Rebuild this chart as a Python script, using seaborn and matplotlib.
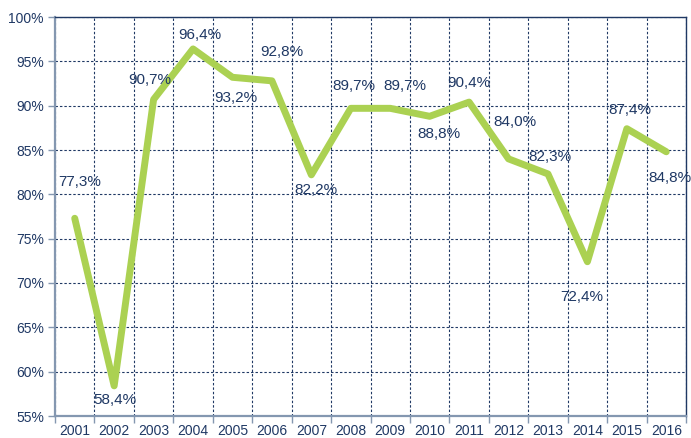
import numpy as np
import pandas as pd
import seaborn as sns
import matplotlib.pyplot as plt

years = [str(y) for y in range(2001, 2017)]
values = [77.3, 58.4, 90.7, 96.4, 93.2, 92.8, 82.2, 89.7, 89.7, 88.8, 90.4, 84.0, 82.3, 72.4, 87.4, 84.8]
# label offsets in pixels (dx, dy) relative to each point
label_offsets = [(5, 36), (1, -14), (-4, 19), (7, 14), (3, -21), (10, 29), (5, -15), (3, 22),
                 (15, 22), (9, -18), (0, 19), (6, 37), (2, 17), (-6, -35), (3, 19), (4, -26)]
y_ticks = list(range(55, 101, 5))

navy = '#1f3864'
green = '#abd152'

sns.set_style('white')
plt.rcParams['font.family'] = ['Liberation Sans', 'DejaVu Sans']

df = pd.DataFrame({'idx': np.arange(len(years)), 'value': values})

fig = plt.figure(figsize=(6.91, 4.38), dpi=100)
ax = fig.add_axes([55 / 691, 22 / 438, 631 / 691, 399 / 438])

sns.lineplot(data=df, x='idx', y='value', ax=ax, color=green, lw=5,
             solid_joinstyle='round', solid_capstyle='round', zorder=3)

for i, (v, (dx, dy)) in enumerate(zip(values, label_offsets)):
    ax.annotate(f'{v:.1f}%'.replace('.', ','), (i, v), xytext=(dx, dy),
                textcoords='offset pixels', ha='center', va='center',
                fontsize=11, color=navy, zorder=4, annotation_clip=False)

ax.set_xlim(-0.5, len(years) - 0.5)
ax.set_ylim(55, 100)
ax.set_xticks(np.arange(len(years) + 1) - 0.5)
ax.set_xticklabels([])
ax.set_xticks(np.arange(len(years)), minor=True)
ax.set_xticklabels(years, minor=True)
ax.set_yticks(y_ticks)
ax.set_yticklabels([f'{t}%' for t in y_ticks])

ax.tick_params(axis='x', which='major', direction='out', length=5, width=1, color='#8497b0', bottom=True)
ax.tick_params(axis='x', which='minor', length=0, pad=6, labelsize=10, labelcolor=navy)
ax.tick_params(axis='y', direction='out', length=5, width=1, color='#8497b0', left=True,
               labelsize=10, labelcolor=navy, pad=3)

ax.grid(True, which='major', color=navy, linestyle=(0, (2.2, 1.8)), lw=0.8)
ax.set_xlabel('')
ax.set_ylabel('')

for s in ['left', 'bottom']:
    ax.spines[s].set_color('#8497b0')
    ax.spines[s].set_linewidth(1.6)
for s in ['top', 'right']:
    ax.spines[s].set_color(navy)
    ax.spines[s].set_linewidth(1.0)

fig.savefig('out.png', dpi=100)
